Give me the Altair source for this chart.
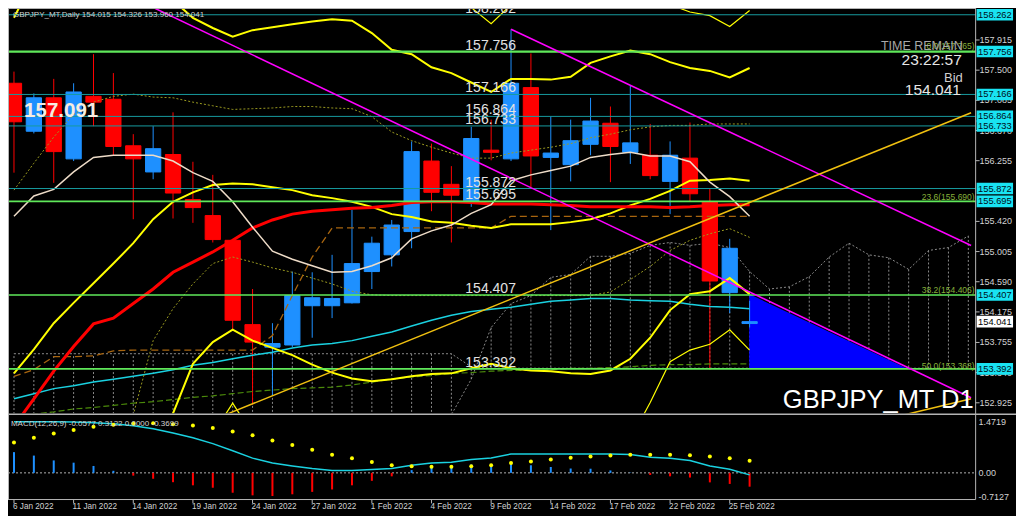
import altair as alt
import pandas as pd

W, H = 1008, 508
SX, SY = W / 1024.0, H / 524.0


def px(v):
    return round(v * SX, 2)


def py(v):
    return round(v * SY, 2)


FONT = "Liberation Sans"
BLUE = "#1E90FF"
RED = "#FF0000"
TEAL = "#179a9e"
LIME = "#5fe85a"
FRAME = "#b4b4b4"
AXTXT = "#d2d2d2"
YEL = "#ffff00"

X_DOM = [-0.049, 50.147]
P_DOM = [151.368, 158.355]
M_DOM = [-1.248, 13.45]

# ---------------- candles ----------------
dates = ["6 Jan 2022", "7 Jan 2022", "10 Jan 2022", "11 Jan 2022", "12 Jan 2022",
         "13 Jan 2022", "14 Jan 2022", "17 Jan 2022", "18 Jan 2022", "19 Jan 2022",
         "20 Jan 2022", "21 Jan 2022", "24 Jan 2022", "25 Jan 2022", "26 Jan 2022",
         "27 Jan 2022", "28 Jan 2022", "31 Jan 2022", "1 Feb 2022", "2 Feb 2022",
         "3 Feb 2022", "4 Feb 2022", "7 Feb 2022", "8 Feb 2022", "9 Feb 2022",
         "10 Feb 2022", "11 Feb 2022", "14 Feb 2022", "15 Feb 2022", "16 Feb 2022",
         "17 Feb 2022", "18 Feb 2022", "21 Feb 2022", "22 Feb 2022", "23 Feb 2022",
         "24 Feb 2022", "25 Feb 2022", "28 Feb 2022"]
opens = [157.32, 156.66, 157.12, 156.28, 157.14, 157.10, 156.46, 156.10, 156.34, 155.72,
         155.50, 155.16, 154.00, 153.69, 153.72, 154.26, 154.26, 154.30, 154.73, 154.96,
         155.28, 156.25, 155.93, 155.69, 156.40, 156.28, 157.26, 156.30, 156.20, 156.48,
         156.77, 156.37, 156.33, 155.97, 156.29, 155.69, 154.44, 154.015]
highs = [157.48, 157.18, 157.38, 157.32, 157.72, 157.46, 156.62, 156.73, 156.92, 156.24,
         156.06, 155.17, 154.49, 154.02, 154.73, 154.72, 154.96, 155.58, 155.21, 155.44,
         156.52, 156.49, 156.18, 156.72, 156.82, 158.06, 157.73, 156.86, 156.82, 157.12,
         157.00, 157.29, 156.76, 156.52, 156.78, 155.87, 155.18, 154.326]
lows = [156.09, 156.63, 155.95, 156.25, 156.73, 156.33, 155.45, 156.00, 155.46, 155.40,
        155.13, 153.93, 152.90, 153.02, 153.69, 153.82, 154.09, 154.29, 154.49, 154.80,
        155.05, 155.56, 155.13, 155.62, 156.26, 156.25, 155.89, 155.30, 155.97, 156.33,
        155.96, 156.21, 156.00, 155.52, 155.69, 153.38, 154.16, 153.960]
closes = [156.79, 157.12, 156.38, 157.20, 157.06, 156.45, 156.28, 156.42, 155.81, 155.61,
          155.17, 154.06, 153.76, 153.74, 154.40, 154.37, 154.36, 154.84, 155.12, 155.37,
          156.38, 155.82, 155.78, 156.56, 156.37, 157.32, 156.32, 156.36, 156.53, 156.80,
          156.45, 156.50, 156.05, 156.33, 155.80, 154.60, 155.05, 154.041]

# ---------------- indicator lines (per bar, from bar 0) ----------------
tenkan = [155.49, 155.77, 155.86, 156.10, 156.30, 156.33, 156.33, 156.33, 156.25, 156.09,
          155.97, 155.69, 155.34, 155.01, 154.90, 154.81, 154.72, 154.73, 154.81, 154.92,
          155.18, 155.29, 155.37, 155.53, 155.65, 155.98, 156.06, 156.12, 156.18, 156.30,
          156.34, 156.37, 156.32, 156.32, 156.24, 155.96, 155.76, 155.49]
bb_mid = [153.33, 153.66, 154.02, 154.30, 154.57, 154.84, 155.12, 155.45, 155.69, 155.82,
          155.92, 155.94, 155.93, 155.89, 155.85, 155.78, 155.74, 155.69, 155.62, 155.52,
          155.48, 155.42, 155.40, 155.36, 155.33, 155.38, 155.38, 155.38, 155.41, 155.45,
          155.53, 155.64, 155.73, 155.84, 155.98, 155.99, 156.01, 155.98]
bb_up = [158.22, 158.76, 159.16, 159.42, 159.56, 159.49, 159.29, 158.89, 158.46, 158.22,
         158.08, 157.96, 158.05, 158.09, 158.13, 158.17, 158.20, 158.18, 158.01, 157.78,
         157.72, 157.54, 157.46, 157.33, 157.20, 157.38, 157.38, 157.37, 157.41, 157.60,
         157.69, 157.77, 157.72, 157.61, 157.53, 157.49, 157.40, 157.53]
bb_low = [148.44, 148.62, 148.89, 149.29, 149.82, 150.49, 151.29, 152.09, 152.78, 153.46,
          153.76, 153.93, 153.78, 153.68, 153.58, 153.45, 153.34, 153.26, 153.22, 153.25,
          153.29, 153.32, 153.33, 153.40, 153.46, 153.40, 153.37, 153.36, 153.33, 153.32,
          153.37, 153.53, 153.82, 154.20, 154.42, 154.46, 154.64, 154.42]
bb_up_outer_start = 21
bb_up_outer = [158.89, 158.62, 158.36, 158.14, 158.40, 158.56, 158.62, 158.65, 158.69,
               158.76, 158.76, 158.62, 158.40, 158.30, 158.25, 158.10, 158.32]
bb_low_outer_start = 10
bb_low_outer = [152.49, 152.92, 152.49, 152.29, 152.20, 152.12, 152.06, 152.02, 152.00,
                151.98, 151.98, 151.98, 151.98, 151.98, 151.98, 151.98, 151.98, 151.98,
                151.98, 151.98, 152.09, 152.42, 152.93, 153.49, 153.65, 153.73, 153.93,
                153.65]
ma_red = [152.60, 152.98, 153.36, 153.70, 154.01, 154.09, 154.29, 154.49, 154.72, 154.86,
          155.00, 155.16, 155.33, 155.44, 155.52, 155.56, 155.58, 155.60, 155.61, 155.64,
          155.68, 155.69, 155.69, 155.68, 155.66, 155.66, 155.66, 155.65, 155.64, 155.62,
          155.62, 155.62, 155.62, 155.61, 155.62, 155.64, 155.65, 155.65]
kijun = [153.29, 153.38, 153.56, 153.56, 153.57, 153.64, 153.65, 153.65, 153.65, 153.65,
         153.65, 153.65, 153.65, 153.85, 154.40, 154.93, 155.33, 155.33, 155.33, 155.33,
         155.33, 155.33, 155.33, 155.33, 155.33, 155.49, 155.49, 155.49, 155.49, 155.49,
         155.49, 155.49, 155.49, 155.49, 155.49, 155.49, 155.49, 155.49]
olive_a = [155.85, 156.22, 156.58, 156.89, 157.06, 157.14, 157.17, 157.13, 157.12, 157.06,
           157.01, 156.96, 156.97, 156.98, 157.00, 157.00, 156.98, 156.97, 156.86, 156.65,
           156.53, 156.44, 156.36, 156.29, 156.29, 156.36, 156.40, 156.44, 156.49, 156.57,
           156.62, 156.68, 156.72, 156.74, 156.74, 156.76, 156.76, 156.76]
olive_b_start = 5
olive_b = [152.09, 152.76, 153.78, 154.22, 154.56, 154.84, 154.93, 154.86, 154.78, 154.72,
           154.64, 154.56, 154.46, 154.41, 154.40, 154.40, 154.40, 154.40, 154.40, 154.40,
           154.40, 154.40, 154.40, 154.40, 154.40, 154.45, 154.62, 154.80, 155.02, 155.16,
           155.25, 155.32, 155.20]
ma_cyan = [152.98, 153.05, 153.12, 153.16, 153.21, 153.25, 153.29, 153.33, 153.38, 153.44,
           153.48, 153.53, 153.58, 153.62, 153.68, 153.72, 153.74, 153.78, 153.84, 153.90,
           153.98, 154.06, 154.13, 154.18, 154.21, 154.24, 154.28, 154.32, 154.34, 154.36,
           154.36, 154.34, 154.33, 154.32, 154.28, 154.25, 154.24, 154.22]
ma_green = [152.73, 152.77, 152.80, 152.84, 152.86, 152.89, 152.92, 152.94, 152.97, 153.00,
            153.02, 153.05, 153.08, 153.10, 153.12, 153.13, 153.14, 153.17, 153.21, 153.25,
            153.28, 153.30, 153.33, 153.34, 153.36, 153.37, 153.37, 153.38, 153.40, 153.40,
            153.41, 153.42, 153.44, 153.45, 153.45, 153.46, 153.46, 153.46]
# Ichimoku cloud spans, bars 0..48 (extends into the future)
span_a = [152.22, 152.22, 152.22, 152.22, 152.22, 152.22, 152.22, 152.22, 152.22, 152.22,
          152.22, 152.36, 152.36, 152.36, 152.36, 152.36, 152.36, 152.36, 152.36, 152.36,
          152.36, 152.36, 152.76, 153.25, 153.96, 154.29, 154.40, 154.65, 154.69, 154.94,
          154.94, 154.98, 155.09, 155.13, 155.09, 155.12, 155.06, 154.73, 154.49, 154.52,
          154.66, 154.93, 155.12, 154.96, 154.92, 154.76, 155.02, 155.06, 155.22]
span_b = [153.60, 153.60, 153.60, 153.60, 153.60, 153.60, 153.60, 153.60, 153.60, 153.60,
          153.60, 153.60, 153.60, 153.60, 153.60, 153.60, 153.60, 153.60, 153.60, 153.60,
          153.60, 153.60, 153.60, 153.42, 153.40, 153.40, 153.40, 153.40, 153.40, 153.40,
          153.40, 153.40, 153.40, 153.40, 153.40, 153.40, 153.40, 153.40, 153.40, 153.40,
          153.40, 153.40, 153.40, 153.40, 153.40, 153.40, 153.40, 153.40, 153.40]

# ---------------- drawn objects ----------------
teal_levels = [158.262, 157.166, 156.864, 156.733, 155.872]
green_levels = [157.756, 155.695, 154.407, 153.392]
fib_labels = ["0.0(157.765)", "23.6(155.690)", "38.2(154.406)", "50.0(153.368)"]
fib_prices = [157.765, 155.690, 154.406, 153.368]
zone_i = [36.98, 44.95]
zone_top = [154.42, 153.392]
zone_base = [153.392, 153.392]
magenta1_i, magenta1_p = [7.06, 48.14], [158.355, 152.995]
magenta2_i, magenta2_p = [25.0, 48.14], [158.062, 155.088]
gold1_i, gold1_p = [10.59, 48.14], [152.755, 156.915]
gold2_i, gold2_p = [44.7, 48.14], [152.755, 152.980]
axis_ticks = [157.915, 157.500, 157.085, 156.670, 156.255, 155.420, 155.005, 154.590,
              154.175, 153.755, 153.340, 152.925]
bid = 154.041

# ---------------- MACD(12,26,9) ----------------
macd_main = [1.48, 1.48, 1.48, 1.47, 1.45, 1.42, 1.36, 1.276, 1.155, 1.015, 0.847, 0.64,
             0.426, 0.286, 0.2, 0.126, 0.07, 0.07, 0.098, 0.126, 0.22, 0.286, 0.31, 0.39,
             0.43, 0.547, 0.547, 0.547, 0.547, 0.547, 0.547, 0.53, 0.454, 0.426, 0.36, 0.2,
             0.107, -0.058]
macd_signal = [0.875, 1.015, 1.136, 1.24, 1.333, 1.39, 1.425, 1.436, 1.408, 1.37, 1.296,
               1.2, 1.088, 0.94, 0.808, 0.668, 0.527, 0.426, 0.314, 0.22, 0.19, 0.174,
               0.174, 0.19, 0.22, 0.286, 0.33, 0.39, 0.435, 0.47, 0.5, 0.527, 0.527, 0.527,
               0.51, 0.47, 0.426, 0.35]
macd_hist = [0.6, 0.5, 0.36, 0.295, 0.2, 0.06, -0.08, -0.17, -0.27, -0.36, -0.43, -0.575,
             -0.65, -0.67, -0.62, -0.55, -0.48, -0.36, -0.23, -0.1, 0.08, 0.17, 0.2, 0.24,
             0.22, 0.31, 0.22, 0.17, 0.126, 0.12, 0.07, 0.01, -0.06, -0.1, -0.135, -0.275,
             -0.32, -0.4]
macd_ticks = [1.4719, 0.0, -0.7127]
macd_tick_text = ["1.4719", "0.00", "-0.7127"]

# ---------------- helpers ----------------
xq = alt.X("i:Q", scale=alt.Scale(domain=X_DOM, nice=False, zero=False), axis=None)


def yp(f):
    return alt.Y(f"{f}:Q", scale=alt.Scale(domain=P_DOM, nice=False, zero=False), axis=None)


def ym(f):
    return alt.Y(f"{f}:Q", scale=alt.Scale(domain=M_DOM, nice=False, zero=False), axis=None)


ONE = pd.DataFrame({"k": [0]})


def series(start, vals):
    return pd.DataFrame({"i": list(range(start, start + len(vals))), "v": vals})


def pline(df, color, width, dash=None):
    kw = dict(color=color, strokeWidth=width, clip=True)
    if dash:
        kw["strokeDash"] = dash
    return alt.Chart(df).mark_line(**kw).encode(x=xq, y=yp("v"))


def seg(xa, ya, xb, yb, color, width=1.0, dash=None):
    kw = dict(color=color, strokeWidth=width)
    if dash:
        kw["strokeDash"] = dash
    return alt.Chart(ONE).mark_rule(**kw).encode(
        x=alt.value(xa), x2=alt.value(xb), y=alt.value(ya), y2=alt.value(yb))


def label(text, x, y, size, color, align="left", weight="normal", baseline="middle"):
    return alt.Chart(ONE).mark_text(
        text=text, font=FONT, fontSize=size, color=color, align=align,
        baseline=baseline, fontWeight=weight).encode(x=alt.value(x), y=alt.value(y))


L = []

# Ichimoku cloud hatch + span lines
cloud = pd.DataFrame({"i": list(range(len(span_a))), "a": span_a, "b": span_b})
L.append(alt.Chart(cloud).mark_rule(color="#8a8a8a", strokeWidth=1, strokeDash=[2, 2],
                                     clip=True).encode(x=xq, y=yp("a"), y2="b"))
L.append(pline(series(0, span_a), "#8a8a8a", 1, [2, 2]))
L.append(pline(series(0, span_b), "#8a8a8a", 1, [2, 2]))

# blue zone
zone = pd.DataFrame({"i": zone_i, "top": zone_top, "base": zone_base})
L.append(alt.Chart(zone).mark_area(color="#0000ff", opacity=1, clip=True).encode(
    x=xq, y=yp("top"), y2="base"))

# candles
candles = pd.DataFrame({"i": list(range(len(dates))), "date": dates, "o": opens,
                        "h": highs, "l": lows, "c": closes})
candles["dir"] = ["up" if c >= o else "down" for o, c in zip(opens, closes)]
dscale = alt.Scale(domain=["up", "down"], range=[BLUE, RED])
L.append(alt.Chart(candles).mark_rule(strokeWidth=1, clip=True).encode(
    x=xq, y=yp("l"), y2="h", color=alt.Color("dir:N", scale=dscale, legend=None)))
L.append(alt.Chart(candles).mark_bar(size=px(15.5), strokeWidth=1, clip=True).encode(
    x=xq, y=yp("o"), y2="c",
    color=alt.Color("dir:N", scale=dscale, legend=None),
    stroke=alt.Stroke("dir:N", scale=dscale, legend=None)))

# indicator lines
L.append(pline(series(0, ma_green), "#4b8a0a", 1.2, [6, 3]))
L.append(pline(series(0, ma_cyan), "#1ad1e0", 1.5))
L.append(pline(series(olive_b_start, olive_b), "#9a9a20", 1, [2, 2]))
L.append(pline(series(0, olive_a), "#9a9a20", 1, [2, 2]))
L.append(pline(series(0, kijun), "#a8650f", 1.3, [7, 4]))
L.append(pline(series(bb_up_outer_start, bb_up_outer), YEL, 1.2))
L.append(pline(series(bb_low_outer_start, bb_low_outer), YEL, 1.2))
L.append(pline(series(0, bb_up), YEL, 2))
L.append(pline(series(0, bb_mid), YEL, 2))
L.append(pline(series(0, bb_low), YEL, 2))
L.append(pline(series(0, ma_red), RED, 3))
L.append(pline(series(0, tenkan), "#eedcc8", 1.5))

# horizontal levels
tl = pd.DataFrame({"p": teal_levels})
L.append(alt.Chart(tl).mark_rule(color=TEAL, strokeWidth=1).encode(
    y=yp("p"), x=alt.value(0), x2=alt.value(px(983))))
gl = pd.DataFrame({"p": green_levels, "w": [2.2, 1.6, 1.6, 1.6]})
L.append(alt.Chart(gl).mark_rule(color=LIME).encode(
    y=yp("p"), x=alt.value(0), x2=alt.value(px(983)),
    strokeWidth=alt.StrokeWidth("w:Q", scale=None, legend=None)))

# trend lines
for ti, tp, col in [(magenta1_i, magenta1_p, "#ff00ff"), (magenta2_i, magenta2_p, "#ff00ff"),
                    (gold1_i, gold1_p, "#f0c010"), (gold2_i, gold2_p, "#f0c010")]:
    L.append(pline(pd.DataFrame({"i": ti, "v": tp}), col, 1.5))

# level labels
all_levels = sorted(teal_levels + green_levels, reverse=True)
lvl = pd.DataFrame({"p": all_levels, "t": [f"{v:.3f}" for v in all_levels]})
L.append(alt.Chart(lvl).mark_text(font=FONT, fontSize=14, color="#e2e2e2", align="right",
                                  baseline="alphabetic", dy=-2).encode(
    x=alt.value(px(516)), y=yp("p"), text="t:N"))
fib = pd.DataFrame({"p": fib_prices, "t": fib_labels})
L.append(alt.Chart(fib).mark_text(font=FONT, fontSize=8.5, color="#86b03a", align="right",
                                  baseline="alphabetic", dy=-2).encode(
    x=alt.value(px(982)), y=yp("p"), text="t:N"))

# texts on main panel
L.append(label("157.091", px(54), py(106), 20.5, "#f6ece0", align="center", weight="bold"))
L.append(label("GBPJPY_MT,Daily  154.015 154.326 153.960 154.041", px(5), py(7), 8,
               "#d0d0d0"))
L.append(label("TIME REMAIN", px(970), py(39), 12.5, "#a8a8a8", align="right"))
L.append(label("23:22:57", px(969), py(54), 15.5, "#e6e6e6", align="right"))
L.append(label("Bid", px(970), py(72), 13, "#cfcfcf", align="right"))
L.append(label("154.041", px(968), py(85), 15.5, "#e6e6e6", align="right"))
L.append(label("GBPJPY_MT D1", px(981), py(404), 25.5, "#ffffff", align="right"))

# mask under main panel
L.append(alt.Chart(ONE).mark_rect(color="#000000").encode(
    x=alt.value(0), x2=alt.value(px(983)), y=alt.value(py(418)), y2=alt.value(H)))

# frame
L.append(seg(0, 0.5, px(983), 0.5, FRAME))
L.append(seg(0.5, 0, 0.5, py(507), FRAME))
L.append(seg(px(983), 0, px(983), py(507), FRAME))
L.append(seg(0, py(419), W, py(419), FRAME, 1.5))
L.append(seg(0, py(507), px(983), py(507), FRAME))

# right price axis
tk = pd.DataFrame({"p": axis_ticks, "t": [f"{v:.3f}" for v in axis_ticks]})
L.append(alt.Chart(tk).mark_rule(color=FRAME, strokeWidth=1).encode(
    y=yp("p"), x=alt.value(px(983)), x2=alt.value(px(987))))
L.append(alt.Chart(tk).mark_text(font=FONT, fontSize=9, color=AXTXT, align="left",
                                 baseline="middle").encode(
    x=alt.value(px(987)), y=yp("p"), text="t:N"))
bx = pd.DataFrame({"p": all_levels, "t": [f"{v:.3f}" for v in all_levels]})
L.append(alt.Chart(bx).mark_tick(orient="horizontal", thickness=py(12), size=px(37),
                                 color="#19e3f2", opacity=1).encode(
    x=alt.value(px(1002.5)), y=yp("p")))
L.append(alt.Chart(bx).mark_text(font=FONT, fontSize=9.3, color="#001020", align="center",
                                 baseline="middle").encode(
    x=alt.value(px(1002.5)), y=yp("p"), text="t:N"))
bd = pd.DataFrame({"p": [bid], "t": [f"{bid:.3f}"]})
L.append(alt.Chart(bd).mark_tick(orient="horizontal", thickness=py(12), size=px(37),
                                 color="#ffffff", opacity=1).encode(
    x=alt.value(px(1002.5)), y=yp("p")))
L.append(alt.Chart(bd).mark_text(font=FONT, fontSize=9.3, color="#000000", align="center",
                                 baseline="middle").encode(
    x=alt.value(px(1002.5)), y=yp("p"), text="t:N"))

# MACD panel
md = pd.DataFrame({"i": list(range(len(macd_main))), "m": macd_main, "s": macd_signal,
                   "h": macd_hist, "z": [0.0] * len(macd_main)})
md["dir"] = ["up" if h >= 0 else "down" for h in macd_hist]
L.append(alt.Chart(pd.DataFrame({"z": [0.0]})).mark_rule(
    color="#b0b0b0", strokeWidth=1, strokeDash=[2, 2]).encode(
    y=ym("z"), x=alt.value(0), x2=alt.value(px(983))))
L.append(alt.Chart(md).mark_rule(strokeWidth=2).encode(
    x=xq, y=ym("z"), y2="h",
    color=alt.Color("dir:N", scale=alt.Scale(domain=["up", "down"],
                                             range=["#1f7fe0", "#e00000"]), legend=None)))
L.append(alt.Chart(md).mark_line(color="#1ad1e0", strokeWidth=1.5).encode(x=xq, y=ym("m")))
L.append(alt.Chart(md).mark_circle(color=YEL, size=16, opacity=1).encode(x=xq, y=ym("s")))
mt = pd.DataFrame({"v": macd_ticks, "t": macd_tick_text})
L.append(alt.Chart(mt).mark_text(font=FONT, fontSize=9, color=AXTXT, align="left",
                                 baseline="middle").encode(
    x=alt.value(px(986)), y=ym("v"), text="t:N"))
L.append(label("MACD(12,26,9) -0.0577 0.3122 0.0000 -0.3699", px(3), py(429), 8, "#d0d0d0"))

# date axis
dl = pd.DataFrame({"i": list(range(0, 37, 3)), "t": [dates[k] for k in range(0, 37, 3)]})
L.append(alt.Chart(dl).mark_rule(color=FRAME, strokeWidth=1).encode(
    x=xq, y=alt.value(py(507)), y2=alt.value(py(511))))
L.append(alt.Chart(dl).mark_text(font=FONT, fontSize=8.2, color=AXTXT, align="left",
                                 baseline="middle", dx=-1).encode(
    x=xq, y=alt.value(py(515)), text="t:N"))

chart = alt.layer(*L).resolve_scale(y="independent").properties(
    width=W, height=H, padding=0,
    autosize=alt.AutoSizeParams(type="none"),
    background="#000000",
).configure_view(strokeWidth=0)

chart.save("out.html", embed_options={"renderer": "svg", "actions": False})
